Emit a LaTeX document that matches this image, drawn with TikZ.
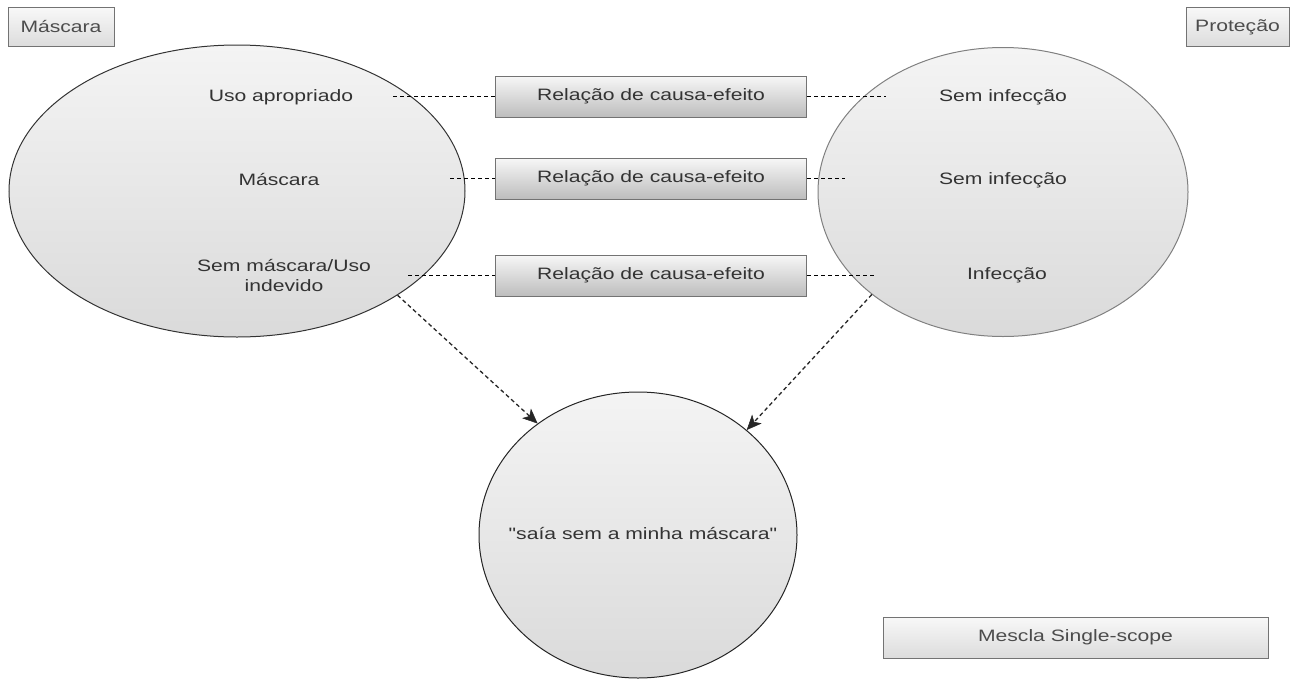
\documentclass[tikz,border=0pt]{standalone}
\usepackage{fontspec}
\setmainfont{Liberation Sans}[Ligatures=TeXOff]
\usetikzlibrary{shapes.geometric,arrows.meta}
\definecolor{txt}{HTML}{333333}
\definecolor{ellfillA}{HTML}{F4F4F4}
\definecolor{ellfillB}{HTML}{DADADA}
\definecolor{boxA}{HTML}{F7F7F7}
\definecolor{boxB}{HTML}{BDBDBD}
\definecolor{lblA}{HTML}{F8F8F8}
\definecolor{lblB}{HTML}{DCDCDC}
\newcommand{\wide}[1]{\scalebox{1.28}[1]{#1}}
\tikzset{
  lbl/.style={font=\fontsize{16.5}{20}\selectfont, text=txt, inner sep=0pt, align=center},
  ell/.style={shape=ellipse, draw=#1, line width=1pt, inner sep=0pt, top color=ellfillA, bottom color=ellfillB},
  relbox/.style={draw=black!55, line width=1pt, top color=boxA, bottom color=boxB, minimum width=311pt, minimum height=41pt, inner sep=0pt, font=\fontsize{16.5}{20}\selectfont, text=txt},
  tagbox/.style={draw=black!55, line width=1pt, top color=lblA, bottom color=lblB, inner sep=0pt, font=\fontsize{16.5}{20}\selectfont, text=black!70},
  dline/.style={dash pattern=on 4pt off 3pt, line width=1pt, black},
  darrow/.style={dash pattern=on 4pt off 3pt, line width=1.3pt, black!85, -{Stealth[length=15pt,width=13pt,inset=4pt,fill=black!85,line width=0.5pt]}}
}
\begin{document}
\begin{tikzpicture}[x=1pt,y=-1pt]
\useasboundingbox (0,0) rectangle (1294,678);
% ellipses
\node[ell=black!80, minimum width=456pt, minimum height=292pt] (L) at (237,191) {};
\node[ell=black!50, minimum width=370pt, minimum height=289pt] (R) at (1003,192) {};
\node[ell=black!85, minimum width=318pt, minimum height=286pt] (C) at (638,535) {};
% corner labels
\node[tagbox, minimum width=106pt, minimum height=39pt] (tM) at (61,27) {\wide{Máscara}};
\node[tagbox, minimum width=103pt, minimum height=39pt] (tP) at (1237.5,27) {\wide{Proteção}};
\node[tagbox, minimum width=385pt, minimum height=41pt] (tS) at (1075.5,637.5) {\wide{Mescla Single-scope}};
% relation boxes
\node[relbox] (B1) at (651,96.5) {\wide{Relação de causa-efeito}};
\node[relbox] (B2) at (651,178.5) {\wide{Relação de causa-efeito}};
\node[relbox] (B3) at (651,275.5) {\wide{Relação de causa-efeito}};
% texts in left ellipse
\node[lbl] (l1) at (281,97) {\wide{Uso apropriado}};
\node[lbl] (l2) at (279,180) {\wide{Máscara}};
\node[lbl] (l3) at (284,275) {\wide{Sem máscara/Uso}\\\wide{indevido}};
% texts in right ellipse
\node[lbl] (r1) at (1003,97) {\wide{Sem infecção}};
\node[lbl] (r2) at (1003,180) {\wide{Sem infecção}};
\node[lbl] (r3) at (1007,275) {\wide{Infecção}};
% bottom text
\node[lbl] (c1) at (643,533) {\wide{"saía sem a minha máscara"}};
% dashed connector ends
\coordinate (e1l) at (393,96.5);
\coordinate (e1r) at (886,96.5);
\coordinate (e2l) at (450,178.5);
\coordinate (e2r) at (845,178.5);
\coordinate (e3l) at (408,275.5);
\coordinate (e3r) at (876,275.5);
\draw[dline] (e1l) -- (B1.west);
\draw[dline] (B1.east) -- (e1r);
\draw[dline] (e2l) -- (B2.west);
\draw[dline] (B2.east) -- (e2r);
\draw[dline] (e3l) -- (B3.west);
\draw[dline] (B3.east) -- (e3r);
% arrows
\draw[darrow] (L.-33) -- (C.132);
\draw[darrow] (R.218) -- (C.44);
\end{tikzpicture}
\end{document}
